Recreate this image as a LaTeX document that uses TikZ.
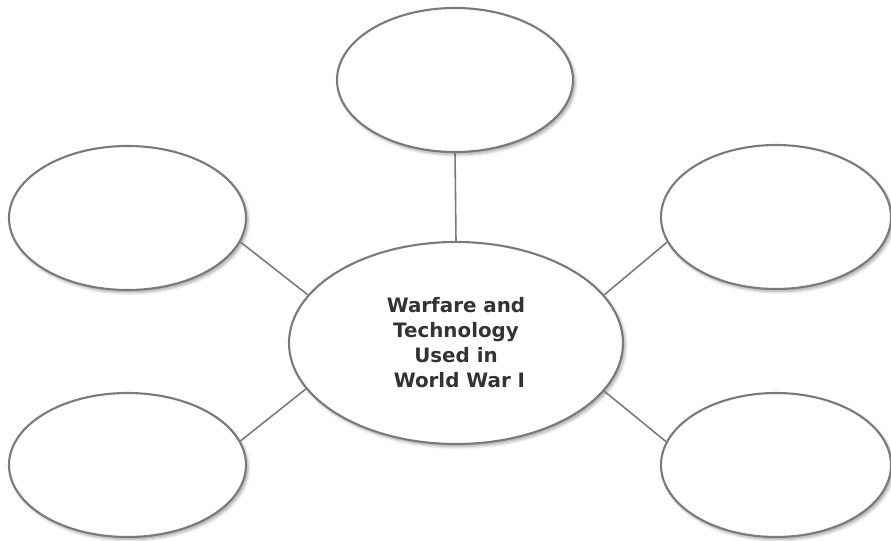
\documentclass[tikz,border=0pt]{standalone}
\usepackage{fontspec}
\setsansfont{DejaVu Sans}
\usepackage{xcolor}
\usetikzlibrary{shapes.geometric,shadows.blur}
\definecolor{rimgray}{HTML}{7A7A7A}
\definecolor{textgray}{HTML}{333333}
\tikzset{
  bubble/.style={ellipse, draw=rimgray, line width=1.2pt, fill=white,
    blur shadow={shadow xshift=1.2pt, shadow yshift=-1.5pt, shadow blur steps=6, shadow opacity=35}},
  spoke/.style={draw=rimgray, line width=0.9pt}
}
\begin{document}
\begin{tikzpicture}[line width=1pt]
        \useasboundingbox (0,0) rectangle (17.82,-10.8);
        \node[bubble, minimum width=6.68cm, minimum height=4.04cm, align=center,
              font=\sffamily\bfseries\fontsize{11.3}{14.2}\selectfont, text=textgray] (hub) at (9.12,-6.86)
              {Warfare and\\Technology\\Used in\\\ World War I};
        \node[bubble, minimum width=4.72cm, minimum height=2.88cm] (top) at (9.10,-1.60){};
        \node[bubble, minimum width=4.74cm, minimum height=2.88cm] (lefttop) at (2.55,-4.36){};
        \node[bubble, minimum width=4.74cm, minimum height=2.88cm] (leftbot) at (2.55,-9.30){};
        \node[bubble, minimum width=4.60cm, minimum height=2.88cm] (righttop) at (15.52,-4.34){};
        \node[bubble, minimum width=4.60cm, minimum height=2.88cm] (rightbot) at (15.52,-9.30){};
        % spokes from the hub out to each bubble
        \draw[spoke] (hub.north) -- (top.south);
        \draw[spoke] (hub.162) -- (lefttop.-12);
        \draw[spoke] (hub.197) -- (leftbot.12);
        \draw[spoke] (hub.18) -- (righttop.193);
        \draw[spoke] (hub.-18) -- (rightbot.168);
    \end{tikzpicture}
\end{document}
